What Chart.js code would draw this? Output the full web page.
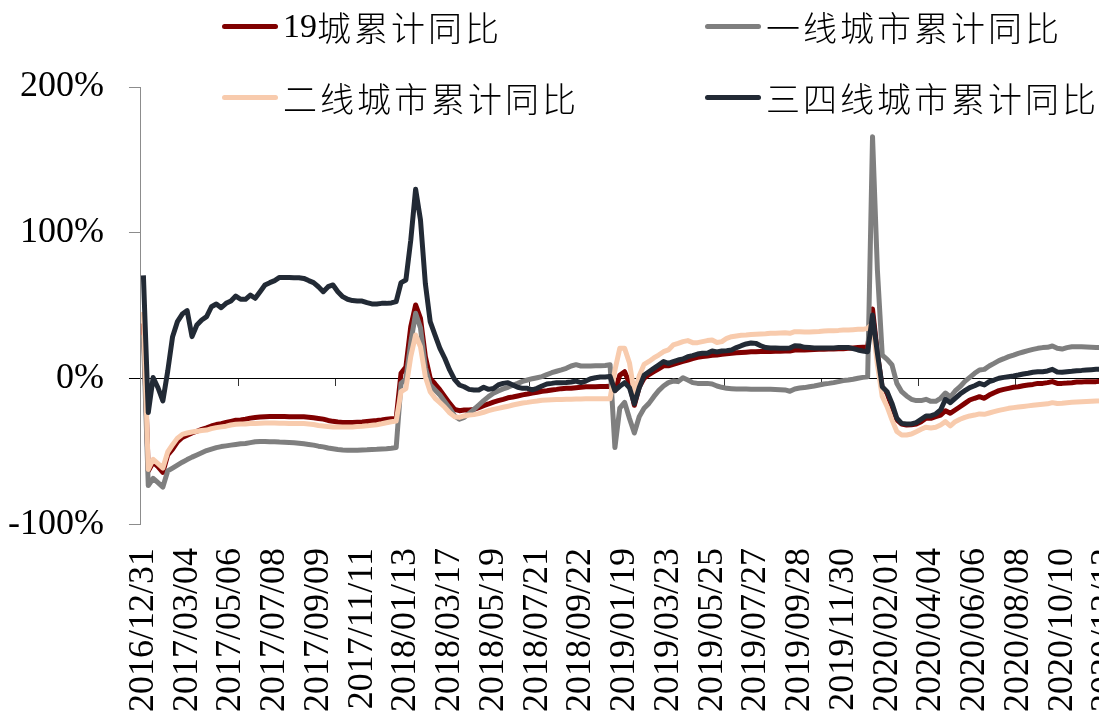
<!DOCTYPE html>
<html>
<head>
<meta charset="utf-8">
<script src="https://cdn.jsdelivr.net/npm/chart.js@4.4.1/dist/chart.umd.min.js"></script>
<style>
  html, body { margin: 0; padding: 0; background: #fff; overflow: hidden; }
  #wrap { position: relative; width: 1140px; height: 721px; }
  #legend .item {
    position: absolute; height: 40px; display: flex; align-items: center; white-space: nowrap;
    font-family: "Liberation Serif", "Noto Sans CJK SC", serif; font-size: 34px; font-weight: 300;
    color: #000; letter-spacing: 3px;
  }
  #legend .sw { width: 56px; height: 5px; border-radius: 3px; margin-right: 5px; flex: none; }
  #legend .num { letter-spacing: 0; }
</style>
</head>
<body>
<div id="wrap">
  <canvas id="c"></canvas>
  <div id="legend"></div>
</div>
<script>
// Weekly dates (category axis)
const DATES = [
  '2016/12/31','2017/01/07','2017/01/14','2017/01/21','2017/01/28','2017/02/04','2017/02/11','2017/02/18','2017/02/25','2017/03/04',
  '2017/03/11','2017/03/18','2017/03/25','2017/04/01','2017/04/08','2017/04/15','2017/04/22','2017/04/29','2017/05/06','2017/05/13',
  '2017/05/20','2017/05/27','2017/06/03','2017/06/10','2017/06/17','2017/06/24','2017/07/01','2017/07/08','2017/07/15','2017/07/22',
  '2017/07/29','2017/08/05','2017/08/12','2017/08/19','2017/08/26','2017/09/02','2017/09/09','2017/09/16','2017/09/23','2017/09/30',
  '2017/10/07','2017/10/14','2017/10/21','2017/10/28','2017/11/04','2017/11/11','2017/11/18','2017/11/25','2017/12/02','2017/12/09',
  '2017/12/16','2017/12/23','2017/12/30','2018/01/06','2018/01/13','2018/01/20','2018/01/27','2018/02/03','2018/02/10','2018/02/17',
  '2018/02/24','2018/03/03','2018/03/10','2018/03/17','2018/03/24','2018/03/31','2018/04/07','2018/04/14','2018/04/21','2018/04/28',
  '2018/05/05','2018/05/12','2018/05/19','2018/05/26','2018/06/02','2018/06/09','2018/06/16','2018/06/23','2018/06/30','2018/07/07',
  '2018/07/14','2018/07/21','2018/07/28','2018/08/04','2018/08/11','2018/08/18','2018/08/25','2018/09/01','2018/09/08','2018/09/15',
  '2018/09/22','2018/10/13','2018/10/27','2018/11/10','2018/11/24','2018/12/08','2018/12/22','2019/01/05','2019/01/12','2019/01/19',
  '2019/01/26','2019/02/02','2019/02/09','2019/02/16','2019/02/23','2019/03/02','2019/03/09','2019/03/16','2019/03/23','2019/03/30',
  '2019/04/06','2019/04/13','2019/04/20','2019/04/27','2019/05/04','2019/05/11','2019/05/18','2019/05/25','2019/06/01','2019/06/08',
  '2019/06/15','2019/06/22','2019/06/29','2019/07/06','2019/07/13','2019/07/20','2019/07/27','2019/08/03','2019/08/10','2019/08/17',
  '2019/08/24','2019/08/31','2019/09/07','2019/09/14','2019/09/21','2019/09/28','2019/10/05','2019/10/12','2019/10/19','2019/10/26',
  '2019/11/02','2019/11/09','2019/11/16','2019/11/23','2019/11/30','2019/12/07','2019/12/14','2019/12/21','2019/12/28','2020/01/04',
  '2020/01/11','2020/01/18','2020/01/25','2020/02/01','2020/02/08','2020/02/15','2020/02/22','2020/02/29','2020/03/07','2020/03/14',
  '2020/03/21','2020/03/28','2020/04/04','2020/04/11','2020/04/18','2020/04/25','2020/05/02','2020/05/09','2020/05/16','2020/05/23',
  '2020/05/30','2020/06/06','2020/06/13','2020/06/20','2020/06/27','2020/07/04','2020/07/11','2020/07/18','2020/07/25','2020/08/01',
  '2020/08/08','2020/08/15','2020/08/22','2020/08/29','2020/09/05','2020/09/12','2020/09/19','2020/09/26','2020/10/03','2020/10/10',
  '2020/10/17','2020/10/24','2020/10/31','2020/11/07','2020/11/14','2020/11/21','2020/11/28','2020/12/05','2020/12/12','2020/12/19',
  '2020/12/26'
];

// 19城累计同比 (%)
const CITY19 = [
  38, -63, -57, -60, -64, -52, -48, -43, -40, -38.5,
  -37, -35.8, -34.5, -33.5, -32.2, -31.2, -30.6, -29.8, -29, -28.3,
  -28, -27.5, -26.8, -26.4, -26.1, -25.8, -25.7, -25.7, -25.7, -25.7,
  -25.8, -25.8, -25.8, -25.9, -26.2, -26.6, -27, -27.5, -28.4, -29,
  -29.5, -29.8, -29.8, -29.8, -29.6, -29.4, -29.1, -28.8, -28.5, -28.1,
  -27.6, -27.2, -27, 3.9, 8.2, 35.8, 50.7, 41.6, 15.3, 0.5,
  -3.4, -7.5, -12.1, -16.7, -20.8, -21.7, -21.2, -21.2, -20.8, -19.6,
  -18.3, -17.1, -15.8, -14.8, -13.9, -12.9, -12.3, -11.6, -10.9, -10.3,
  -9.6, -9.1, -8.4, -8, -7.5, -7.1, -6.6, -6.4, -6.4, -6,
  -5.7, -5.3, -5.3, -5.3, -5.2, -5.1, -5, -8, 2.5, 5,
  -3, -18, -5.5, 0.5, 3, 5, 7, 9, 9, 10,
  11, 12, 13, 14, 14.8, 15.4, 15.8, 16.3, 16.5, 17,
  17.3, 17.6, 17.9, 18.2, 18.4, 18.6, 18.7, 18.8, 18.8, 18.9,
  19, 19, 19.1, 19.2, 19.8, 20, 19.8, 20, 20.2, 20.3,
  20.4, 20.5, 20.6, 20.7, 20.8, 21, 21.3, 21.6, 21.8, 22,
  48, 17.6, -6.4, -9.8, -19, -28, -30.8, -31.5, -31.3, -30.8,
  -29.2, -26.9, -26.9, -25.8, -24.7, -21.7, -23.5, -21.2, -19, -16.7,
  -14.4, -13.2, -12.1, -13.2, -11, -9.4, -8, -7.1, -6.4, -5.7,
  -5.3, -4.6, -4.1, -3.7, -3, -3, -2.5, -1.8, -3, -3,
  -2.8, -2.5, -2.1, -2.1, -1.8, -1.8, -1.8, -1.6, -1.6, -1.6,
  -1.6
];

// 一线城市累计同比 (%)
const TIER1 = [
  30, -73, -68, -71, -74, -63, -61, -59, -57, -55.2,
  -53.5, -52, -50.5, -49, -48, -47, -46.3, -45.8, -45.3, -44.8,
  -44.4, -44.2, -43.6, -43, -42.8, -42.8, -43, -43, -43.2, -43.3,
  -43.5, -43.7, -44, -44.4, -44.8, -45.3, -46, -46.5, -47.3, -47.8,
  -48.3, -48.6, -48.8, -48.8, -48.8, -48.6, -48.5, -48.3, -48.2, -48,
  -47.8, -47.5, -47, -3, 0, 25, 45, 35, 8, -4,
  -7.5, -11, -15.5, -20, -25.3, -27.6, -26.3, -23.5, -20.8, -17.8,
  -14.8, -12.1, -9.8, -8.2, -6.8, -5.7, -4.3, -3, -1.6, -0.7,
  0.2, 0.9, 1.6, 3, 4.3, 5.3, 6.2, 7.3, 8.9, 9.8,
  8.9, 8.9, 8.9, 9.1, 9.1, 9.3, 9.8, -47, -20, -16,
  -27, -37, -25.8, -20, -16.7, -12.1, -8, -4.8, -2.5, -1.4,
  -1.8, 0.9, -0.7, -2.5, -3, -3, -3, -3.4, -4.8, -5.7,
  -6.4, -6.6, -6.8, -6.8, -6.9, -7, -7, -7, -7.1, -7.1,
  -7.2, -7.3, -7.5, -8.4, -6.8, -6.2, -5.9, -5.3, -4.8, -4.1,
  -3.4, -3, -2.5, -1.8, -1.1, -0.7, -0.2, 0.5, 1.1, 1.6,
  166, 74.7, 16.4, 13.5, 9.6, -3, -8.7, -11.6, -13.9, -14.8,
  -14.8, -13.9, -15.3, -15.3, -13.2, -9.6, -12.3, -8.2, -5.3, -1.6,
  1.1, 3.9, 6.2, 6.6, 8.9, 10.7, 12.6, 13.9, 15.3, 16.4,
  17.6, 18.5, 19.4, 20.3, 21, 21.5, 21.7, 22.6, 21, 20.5,
  21.5, 22.1, 22.1, 22.1, 21.9, 21.7, 21.5, 21.5, 21.5, 21.5,
  21.5
];

// 二线城市累计同比 (%)
const TIER2 = [
  46, -62, -55, -58, -61, -50, -45, -40.5, -38, -37,
  -36.3, -35.8, -35.3, -35, -34, -33.3, -32.8, -32.3, -31.5, -31,
  -30.8, -30.8, -30.5, -30.4, -30.3, -30.2, -30.2, -30.2, -30.3, -30.3,
  -30.4, -30.4, -30.4, -30.5, -30.8, -31.2, -31.8, -32.2, -32.6, -32.8,
  -32.8, -32.8, -32.8, -32.8, -32.6, -32.4, -32.1, -31.7, -31.3, -30.7,
  -30, -29.3, -28.8, -8.7, -6.6, 15.3, 30.1, 22.1, 1.6, -8.7,
  -13.2, -16.2, -19.4, -23.1, -25.8, -26.3, -25.3, -24.7, -24.4, -23.7,
  -22.8, -21.7, -20.8, -20.1, -19.4, -18.7, -17.8, -17.1, -16.4, -16,
  -15.5, -15.1, -14.6, -14.4, -14.2, -14.1, -14, -13.9, -13.8, -13.7,
  -13.7, -13.6, -13.6, -13.6, -13.5, -13.5, -13.5, 6, 21, 21,
  11, -10, 2, 10, 12, 14.4, 16.4, 18.7, 19.9, 23.3,
  24.4, 25.6, 26.3, 24.9, 24.9, 25.6, 26.3, 26.7, 25, 25.6,
  27.9, 29, 29.5, 29.9, 30.1, 30.4, 30.6, 30.8, 31, 31.3,
  31.3, 31.5, 31.7, 31.3, 32.4, 32.4, 32.2, 32.2, 32.4, 32.6,
  32.9, 33.1, 33.1, 33.3, 33.6, 33.6, 33.8, 34, 34, 34.7,
  38, 10, -12, -19, -28, -36, -38.4, -38.4, -37.7, -36.1,
  -34.4, -33, -33.5, -33, -31.5, -29.2, -32.2, -29.2, -27.6, -26.3,
  -25.3, -24.7, -23.9, -24.2, -23.3, -22.4, -21.5, -20.8, -20.1, -19.6,
  -19.2, -18.8, -18.4, -18, -17.6, -17.3, -17, -16.2, -16.8, -16.6,
  -16.2, -16, -15.8, -15.6, -15.4, -15.2, -15, -14.9, -14.7, -14.6,
  -14.5
];

// 三四线城市累计同比 (%)
const TIER34 = [
  71, -23, 1, -6, -15, 5.3, 29, 39.3, 44.5, 46.8,
  29, 37, 40.4, 42.7, 49.5, 51.4, 48.8, 51.8, 53.4, 56.8,
  54.6, 54.6, 57.5, 55.3, 59.8, 64.4, 66, 67.4, 69.6, 69.6,
  69.6, 69.4, 69.4, 68.9, 67.4, 66, 63.2, 59.8, 63.2, 64.4,
  59.8, 56.4, 54.6, 53.7, 53.4, 53.4, 52.3, 51.4, 51.4, 51.8,
  51.8, 52.1, 53, 66, 67.8, 95, 130, 109, 65.5, 39.3,
  30.1, 21, 14.2, 6.2, -0.2, -4.1, -5.3, -7.1, -7.5, -7.5,
  -5.7, -7.1, -6.5, -4.1, -3, -2.5, -4.1, -5.7, -6.4, -6.4,
  -7.5, -6.4, -4.8, -3.4, -3, -2.5, -2.5, -2.4, -2.1, -1.4,
  -2.5, -1.4, 0.2, 0.9, 1.4, 1.4, 1.8, -8, -5, -2.5,
  -6, -17, -6, 2.5, 5, 7.3, 9.6, 11.9, 10.7, 11.9,
  13, 13.7, 15.3, 16, 17.1, 17.6, 17.6, 19.2, 18.5, 19.2,
  19.4, 19.9, 21.5, 22.8, 24, 24.7, 24.4, 22.8, 21.5, 21.2,
  21.2, 21, 21, 21.2, 22.8, 22.6, 21.7, 21.5, 21.2, 21.2,
  21.2, 21.2, 21.3, 21.5, 21.5, 21.6, 20.8, 19.9, 19.2, 18.7,
  43.8, 17.6, -5.3, -8.7, -16.7, -26.9, -30.4, -30.8, -30.8, -29.9,
  -27.6, -25.3, -25.3, -24, -21.2, -13.9, -16.2, -13.2, -10.3, -8,
  -5.9, -4.6, -3, -4.1, -1.8, -0.7, 0.5, 1.1, 1.6, 2.1,
  2.7, 3.4, 3.9, 4.6, 5, 5, 5.5, 6.6, 4.8, 4.6,
  5, 5.3, 5.7, 5.9, 6.2, 6.4, 6.6, 6.6, 6.8, 6.8,
  6.8
];

const SERIES_NAMES = ['19城累计同比', '一线城市累计同比', '二线城市累计同比', '三四线城市累计同比'];
const SERIES_COLORS = ['#800000', '#7f7f7f', '#f8cbad', '#222a35'];
const Y_TICKS = [-100, 0, 100, 200];
const LABEL_STEP = 9;   // a date label every 9 weeks
const MARK_STEP = 20;   // a tick mark on the zero line every 20 weeks

const SERIF = '"Liberation Serif", "Times New Roman", serif';
Chart.defaults.font.family = SERIF;
Chart.defaults.color = '#000';

const seriesData = [CITY19, TIER1, TIER2, TIER34];
// later series are drawn on top of earlier ones
const datasets = seriesData.map((values, k) => ({
  label: SERIES_NAMES[k],
  data: values,
  borderColor: SERIES_COLORS[k],
  backgroundColor: SERIES_COLORS[k],
  borderWidth: 5,
  pointRadius: 0,
  pointHoverRadius: 0,
  tension: 0,
  borderJoinStyle: 'round',
  fill: false,
  order: seriesData.length - k,
  xAxisID: 'x',
  yAxisID: 'y'
}));

// the rotated date labels must not push the plot area inwards
const noSidePadding = (s) => { s.paddingLeft = 0; s.paddingRight = 0; };
const Y_LABEL_GAP = 25;

const chart = new Chart(document.getElementById('c'), {
  type: 'line',
  data: { labels: DATES, datasets },
  options: {
    responsive: true,
    maintainAspectRatio: false,
    animation: false,
    events: [],
    layout: { padding: { left: 8, top: 87, right: 22, bottom: 6 } },
    plugins: { legend: { display: false }, tooltip: { enabled: false } },
    scales: {
      x: {
        type: 'category',
        position: 'bottom',
        offset: true,
        grid: { display: false, drawTicks: true, tickLength: 20 },
        border: { display: false },
        afterBuildTicks: (s) => { s.ticks = s.ticks.filter(t => t.value % LABEL_STEP === 0); },
        afterFit: noSidePadding,
        ticks: {
          autoSkip: false, minRotation: 90, maxRotation: 90, padding: 3,
          font: { family: SERIF, size: 36 }, color: '#000'
        }
      },
      // axis line through 0% with its tick marks on category boundaries
      zero: {
        type: 'linear',
        axis: 'x',
        position: { y: 0 },
        min: 0,
        max: DATES.length,
        grid: { display: true, drawOnChartArea: false, drawTicks: true, tickLength: 7, color: '#333', lineWidth: 1 },
        border: { display: true, color: '#000', width: 1 },
        afterBuildTicks: (s) => {
          s.ticks = s.ticks.filter(t => t.value % MARK_STEP === 0 && t.value < DATES.length);
        },
        afterFit: noSidePadding,
        ticks: { display: false, stepSize: MARK_STEP }
      },
      y: {
        type: 'linear',
        position: 'left',
        min: Y_TICKS[0],
        max: Y_TICKS[Y_TICKS.length - 1],
        afterBuildTicks: (s) => { s.ticks = Y_TICKS.map(v => ({ value: v })); },
        // the label gap only belongs between labels and tick marks
        afterFit: (s) => { s.width -= Y_LABEL_GAP; },
        grid: {
          display: true, drawOnChartArea: false, drawTicks: true, tickLength: 12,
          color: (ctx) => (ctx.tick && ctx.tick.value === 0 ? '#000' : '#8c8c8c')
        },
        border: { display: true, color: '#8c8c8c', width: 1 },
        ticks: {
          padding: Y_LABEL_GAP,
          font: { family: SERIF, size: 36 }, color: '#000',
          callback: (v) => v + '%'
        }
      }
    }
  }
});

// Legend: two columns, two rows
const legendPos = [
  { left: 222, top: 6 }, { left: 705, top: 6 },
  { left: 222, top: 77 }, { left: 705, top: 77 }
];
const legend = document.getElementById('legend');
SERIES_NAMES.forEach((name, k) => {
  const item = document.createElement('div');
  item.className = 'item';
  item.style.left = legendPos[k].left + 'px';
  item.style.top = legendPos[k].top + 'px';
  const sw = document.createElement('span');
  sw.className = 'sw';
  sw.style.background = SERIES_COLORS[k];
  item.appendChild(sw);
  const m = name.match(/^(\d+)(.*)$/);
  if (m) {
    const num = document.createElement('span');
    num.className = 'num';
    num.textContent = m[1];
    item.appendChild(num);
    item.appendChild(document.createTextNode(m[2]));
  } else {
    item.appendChild(document.createTextNode(name));
  }
  legend.appendChild(item);
});
</script>
</body>
</html>
